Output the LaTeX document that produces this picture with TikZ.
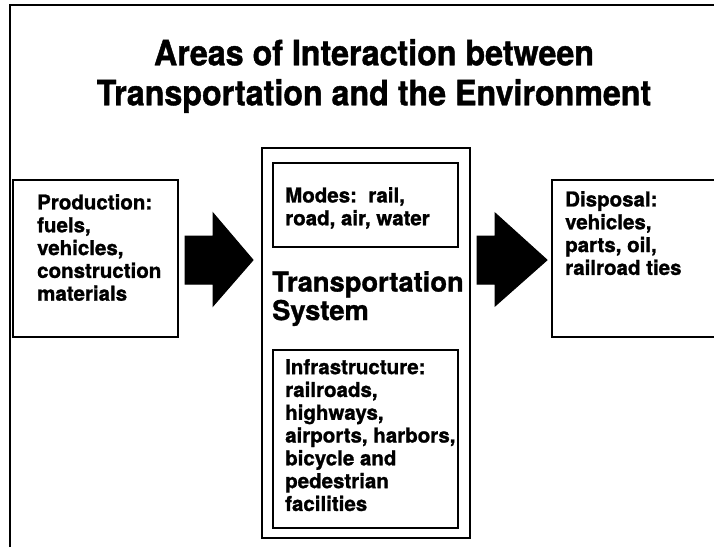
\documentclass[tikz,border=0pt]{standalone}
\usepackage{fontspec}
\setmainfont{TeX Gyre Heros}[BoldFeatures={FakeBold=1.2}]
\newfontfamily\headfont{TeX Gyre Heros}[FakeStretch=0.92,BoldFeatures={FakeBold=1.2}]
\usetikzlibrary{positioning}

\newcommand{\smalltext}{\fontsize{20.5}{22.8}\selectfont\bfseries}
\newcommand{\titletext}{\headfont\fontsize{35}{40}\selectfont\bfseries}
\newcommand{\systemtext}{\fontsize{27.3}{28.5}\selectfont\bfseries}

\tikzset{
	box/.style={line width=1.3pt},
	boxtext/.style={anchor=north west,inner sep=0pt,align=left,font=\smalltext},
	blockarrow/.style={fill=black,draw=black,line width=1pt,line join=miter}
}

\begin{document}
\begin{tikzpicture}[x=1pt,y=-1pt]
	\useasboundingbox (0,0) rectangle (714,547);
	\clip (0,0) rectangle (714,547);

	\coordinate (FA) at (10,547);
	\coordinate (FB) at (10,5);
	\coordinate (FC) at (714,5);

	\coordinate (PA) at (13,180);
	\coordinate (PB) at (178,337);
	\coordinate (SA) at (262,148);
	\coordinate (SB) at (470,538);
	\coordinate (MA) at (273,163);
	\coordinate (MB) at (458,247);
	\coordinate (IA) at (273,350);
	\coordinate (IB) at (458,528);
	\coordinate (DA) at (552,180);
	\coordinate (DB) at (730,337);

	\draw[line width=2.8pt](FA)--(FB)--(FC);

	\draw[box](PA) rectangle (PB);
	\draw[box](SA) rectangle (SB);
	\draw[box](MA) rectangle (MB);
	\draw[box](IA) rectangle (IB);
	\draw[box](DA) rectangle (DB);

	\node[anchor=north,inner sep=0pt,align=center,font=\titletext] (title) at (374,39)
		{Areas of Interaction between\\Transportation and the Environment};

	\node[boxtext] (production) at (37,194)
		{Production:\\fuels,\\vehicles,\\construction\\materials};
	\node[boxtext] (modes) at (285,187)
		{Modes:\ \ rail,\\road, air, water};
	\node[boxtext,font=\systemtext] (system) at (272,271)
		{Transportation\\System};
	\node[boxtext] (infra) at (285,359)
		{Infrastructure:\\railroads,\\highways,\\airports, harbors,\\bicycle and\\pedestrian\\facilities};
	\node[boxtext] (disposal) at (565,191)
		{Disposal:\\vehicles,\\parts, oil,\\railroad ties};

	% block arrows between the boxes
	\filldraw[blockarrow](185,236)--(213,236)--(213,213)--(253,260)--(213,306)--(213,284)--(185,284)--cycle;
	\filldraw[blockarrow](477,236)--(495,236)--(495,213)--(547,260)--(495,306)--(495,284)--(477,284)--cycle;
\end{tikzpicture}
\end{document}
